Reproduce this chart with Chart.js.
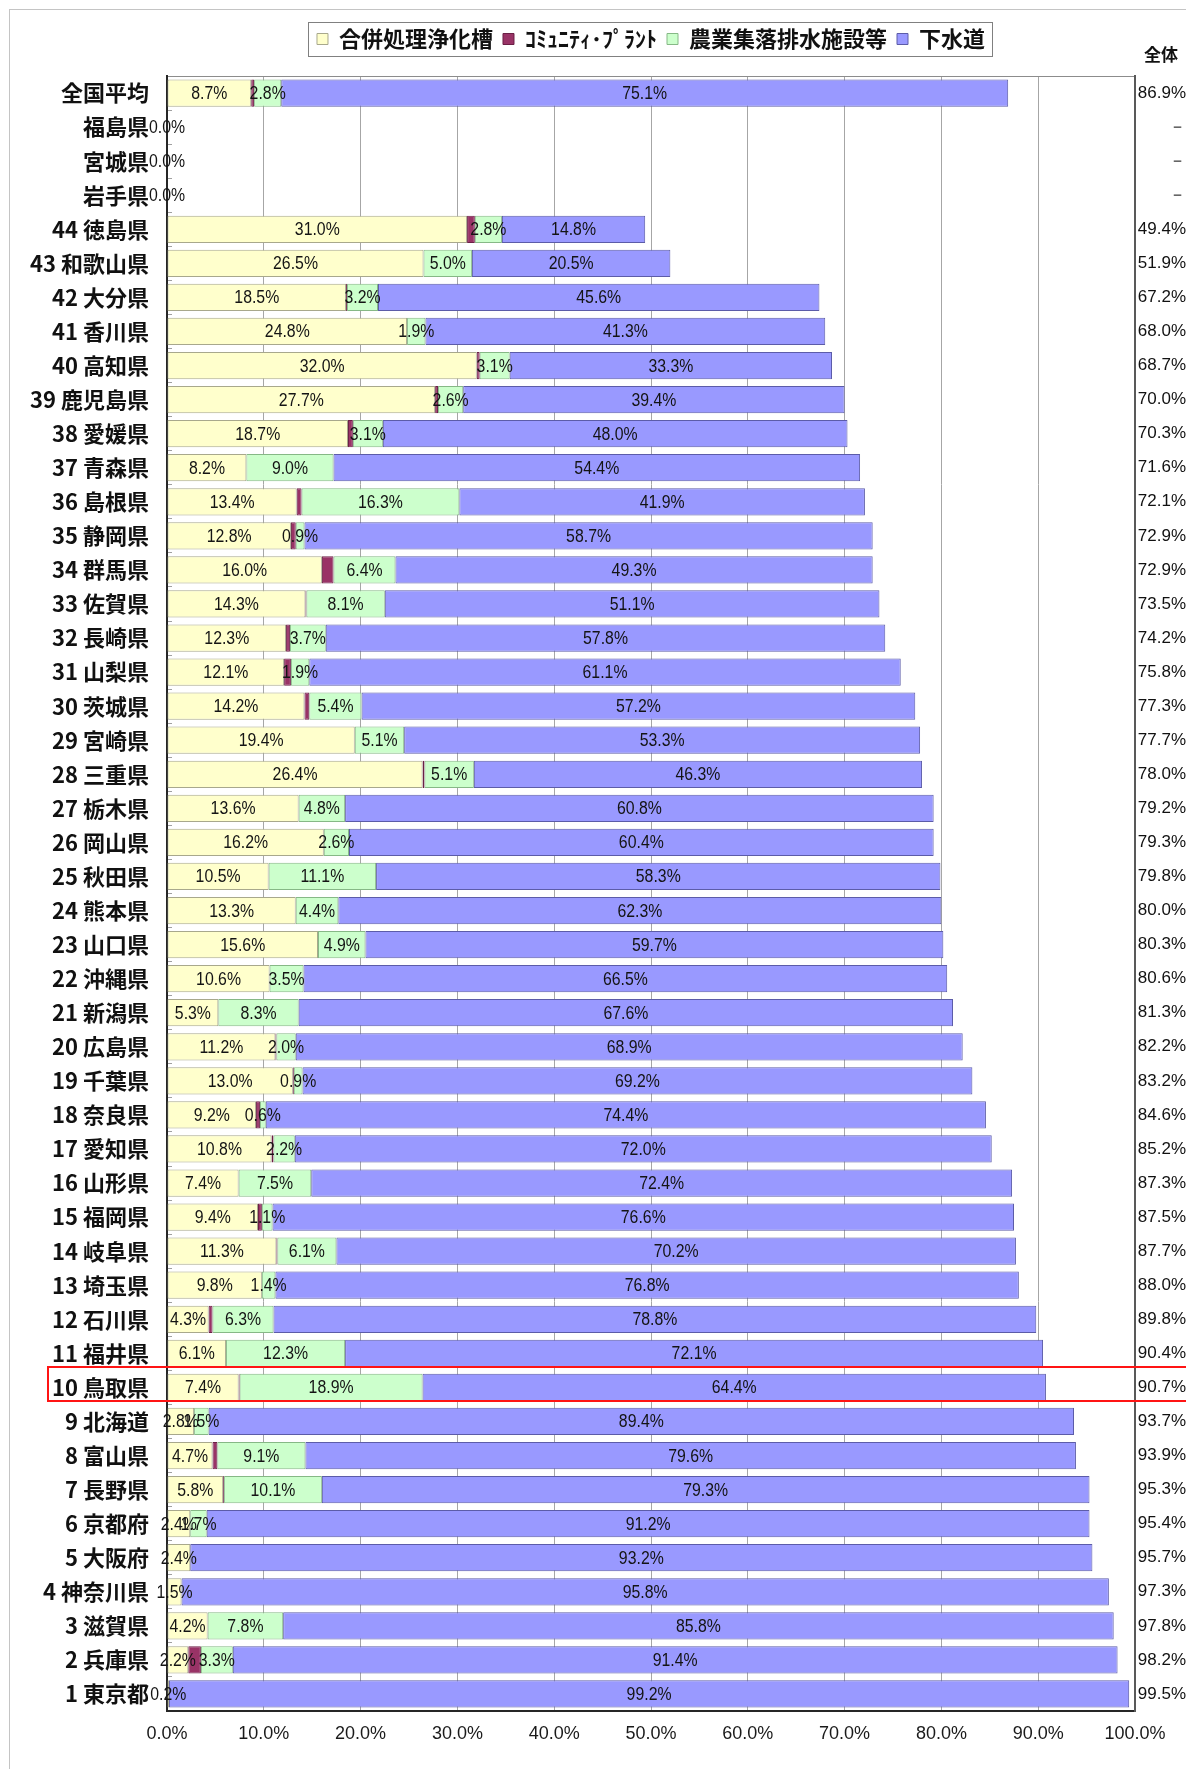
<!DOCTYPE html>
<html lang="ja">
<head>
<meta charset="UTF-8">
<title>汚水処理人口普及率（都道府県別）</title>
<script src="https://cdn.jsdelivr.net/npm/chart.js@4.4.1/dist/chart.umd.min.js"></script>
<style>
  html, body { margin: 0; padding: 0; background: #fff; overflow: hidden; }
  canvas { display: block; }
</style>
</head>
<body>
<canvas id="grafico" width="1186" height="1769"></canvas>
<script>
// categorias (de cima para baixo)
const categorias = ['全国平均', '福島県', '宮城県', '岩手県',
  '44 徳島県', '43 和歌山県', '42 大分県', '41 香川県', '40 高知県', '39 鹿児島県', '38 愛媛県', '37 青森県',
  '36 島根県', '35 静岡県', '34 群馬県', '33 佐賀県', '32 長崎県', '31 山梨県', '30 茨城県', '29 宮崎県',
  '28 三重県', '27 栃木県', '26 岡山県', '25 秋田県', '24 熊本県', '23 山口県', '22 沖縄県', '21 新潟県',
  '20 広島県', '19 千葉県', '18 奈良県', '17 愛知県', '16 山形県', '15 福岡県', '14 岐阜県', '13 埼玉県',
  '12 石川県', '11 福井県', '10 鳥取県', '9 北海道', '8 富山県', '7 長野県', '6 京都府', '5 大阪府',
  '4 神奈川県', '3 滋賀県', '2 兵庫県', '1 東京都'];

const gappei = [8.7, 0, 0, 0, 31.0, 26.5, 18.5, 24.8, 32.0, 27.7, 18.7, 8.2, 13.4, 12.8, 16.0, 14.3, 12.3, 12.1,
  14.2, 19.4, 26.4, 13.6, 16.2, 10.5, 13.3, 15.6, 10.6, 5.3, 11.2, 13.0, 9.2, 10.8, 7.4, 9.4, 11.3, 9.8, 4.3, 6.1,
  7.4, 2.8, 4.7, 5.8, 2.4, 2.4, 1.5, 4.2, 2.2, 0.2];

const community = [0.3, null, null, null, 0.8, null, 0.1, null, 0.3, 0.3, 0.5, null, 0.5, 0.5, 1.2, 0.1, 0.4, 0.7,
  0.5, null, 0.2, null, null, null, null, null, null, null, 0.1, 0.1, 0.4, 0.2, null, 0.4, 0.1, null, 0.4, null,
  0.1, null, 0.5, 0.1, null, null, null, null, 1.3, null];

const nougyou = [2.8, null, null, null, 2.8, 5.0, 3.2, 1.9, 3.1, 2.6, 3.1, 9.0, 16.3, 0.9, 6.4, 8.1, 3.7, 1.9,
  5.4, 5.1, 5.1, 4.8, 2.6, 11.1, 4.4, 4.9, 3.5, 8.3, 2.0, 0.9, 0.6, 2.2, 7.5, 1.1, 6.1, 1.4, 6.3, 12.3,
  18.9, 1.5, 9.1, 10.1, 1.7, null, null, 7.8, 3.3, null];

const gesuido = [75.1, null, null, null, 14.8, 20.5, 45.6, 41.3, 33.3, 39.4, 48.0, 54.4, 41.9, 58.7, 49.3, 51.1,
  57.8, 61.1, 57.2, 53.3, 46.3, 60.8, 60.4, 58.3, 62.3, 59.7, 66.5, 67.6, 68.9, 69.2, 74.4, 72.0, 72.4, 76.6,
  70.2, 76.8, 78.8, 72.1, 64.4, 89.4, 79.6, 79.3, 91.2, 93.2, 95.8, 85.8, 91.4, 99.2];

// coluna "全体" (null = －)
const zentai = [86.9, null, null, null, 49.4, 51.9, 67.2, 68.0, 68.7, 70.0, 70.3, 71.6, 72.1, 72.9, 72.9, 73.5,
  74.2, 75.8, 77.3, 77.7, 78.0, 79.2, 79.3, 79.8, 80.0, 80.3, 80.6, 81.3, 82.2, 83.2, 84.6, 85.2, 87.3, 87.5,
  87.7, 88.0, 89.8, 90.4, 90.7, 93.7, 93.9, 95.3, 95.4, 95.7, 97.3, 97.8, 98.2, 99.5];

const xTicks = [0, 10, 20, 30, 40, 50, 60, 70, 80, 90, 100];
const nomes = ['合併処理浄化槽', 'ｺﾐｭﾆﾃｨ･ﾌﾟﾗﾝﾄ', '農業集落排水施設等', '下水道'];
const cabecalhoTotal = '全体';
const destaque = '10 鳥取県';

const FONT_JP = "'Noto Sans CJK JP', 'Noto Sans', sans-serif";
const FONT_NUM = "'Liberation Sans Narrow', 'Liberation Sans', Arial, sans-serif";

const pct = v => v.toFixed(1) + '%';

// rótulos dentro das barras
const rotulos = {
  id: 'rotulos',
  afterDraw(chart) {
    const ctx = chart.ctx;
    chart.data.datasets.forEach((ds, di) => {
      if (!ds.rotulo) return;
      chart.getDatasetMeta(di).data.forEach((bar, i) => {
        const v = ds.data[i];
        if (v === null || v === undefined) return;
        const p = bar.getProps(['x', 'y', 'base'], true);
        ctx.save();
        ctx.translate((p.x + p.base) / 2, p.y + 1);
        ctx.scale(0.88, 1);
        ctx.font = "18px 'Liberation Sans', Arial, sans-serif";
        ctx.fillStyle = '#141414';
        ctx.textAlign = 'center';
        ctx.textBaseline = 'middle';
        ctx.fillText(pct(v), 0, 0);
        ctx.restore();
      });
    });
  }
};

// moldura, caixa da legenda, cabeçalho e destaque vermelho
const extras = {
  id: 'extras',
  beforeDraw(chart) {
    const ctx = chart.ctx;
    ctx.save();
    ctx.strokeStyle = '#c4c4c4';
    ctx.lineWidth = 1;
    ctx.strokeRect(9.5, 9.5, chart.width + 20, chart.height + 20);
    ctx.restore();
  },
  afterDraw(chart) {
    const ctx = chart.ctx;
    const area = chart.chartArea;

    const boxes = chart.legend.legendHitBoxes || [];
    if (boxes.length) {
      const l = Math.min(...boxes.map(b => b.left)) - 9;
      const r = Math.max(...boxes.map(b => b.left + b.width)) + 7;
      const t = Math.min(...boxes.map(b => b.top)) - 6;
      const b2 = Math.max(...boxes.map(b => b.top + b.height)) + 6;
      ctx.save();
      ctx.strokeStyle = '#808080';
      ctx.lineWidth = 1;
      ctx.strokeRect(Math.round(l) + 0.5, Math.round(t) + 0.5, Math.round(r - l), Math.round(b2 - t));
      ctx.restore();
    }

    ctx.save();
    ctx.font = `bold 17px ${FONT_JP}`;
    ctx.fillStyle = '#111';
    ctx.textAlign = 'left';
    ctx.textBaseline = 'middle';
    ctx.fillText(cabecalhoTotal, area.right + 9, area.top - 21);
    ctx.restore();

    const yScale = chart.scales.y;
    const idx = categorias.indexOf(destaque);
    if (idx >= 0) {
      const rowH = (area.bottom - area.top) / categorias.length;
      const yc = yScale.getPixelForValue(idx);
      ctx.save();
      ctx.strokeStyle = '#ff1414';
      ctx.lineWidth = 2;
      ctx.strokeRect(yScale.left + 48, Math.round(yc - rowH / 2) - 3, chart.width, Math.round(rowH));
      ctx.restore();
    }
  }
};

const ctx = document.getElementById('grafico').getContext('2d');
new Chart(ctx, {
  type: 'bar',
  data: {
    labels: categorias,
    datasets: [
      { label: nomes[0], data: gappei, backgroundColor: '#ffffcc', borderColor: '#a8a88c', rotulo: true },
      { label: nomes[1], data: community, backgroundColor: '#993366', borderColor: '#6b1f45', rotulo: false },
      { label: nomes[2], data: nougyou, backgroundColor: '#ccffcc', borderColor: '#86b886', rotulo: true },
      { label: nomes[3], data: gesuido, backgroundColor: '#9999ff', borderColor: '#5c5ca8', rotulo: true }
    ]
  },
  options: {
    indexAxis: 'y',
    responsive: false,
    animation: false,
    datasets: {
      bar: { barPercentage: 0.8, categoryPercentage: 1.0, borderWidth: 1, borderSkipped: false }
    },
    layout: { padding: { top: 18, left: 0, right: 0, bottom: 0 } },
    plugins: {
      legend: {
        position: 'top',
        fullSize: false,
        labels: {
          boxWidth: 11,
          boxHeight: 11,
          padding: 10,
          color: '#111',
          font: { family: FONT_JP, size: 22, weight: 'bold' }
        }
      },
      tooltip: { enabled: false }
    },
    scales: {
      x: {
        stacked: true,
        min: 0,
        max: 100,
        position: 'bottom',
        afterBuildTicks: s => { s.ticks = xTicks.map(v => ({ value: v })); },
        afterFit: s => { s.height = 58; },
        grid: { color: '#a6a6a6', lineWidth: 1, drawTicks: false },
        border: { color: '#262626', width: 2 },
        ticks: {
          padding: 12,
          color: '#1a1a1a',
          maxRotation: 0,
          autoSkip: false,
          font: { family: FONT_NUM, size: 18 },
          callback: v => pct(v)
        }
      },
      xt: {
        type: 'linear',
        position: 'top',
        min: 0,
        max: 100,
        afterFit: s => { s.height = 16; },
        grid: { display: false },
        ticks: { display: false },
        border: { color: '#8c8c8c', width: 1 }
      },
      y: {
        stacked: true,
        afterFit: s => { s.width = 167; },
        grid: { display: true, drawOnChartArea: false, drawTicks: true, tickLength: -5, color: '#a0a0a0' },
        border: { color: '#262626', width: 2 },
        ticks: {
          padding: 23,
          color: '#111',
          autoSkip: false,
          font: { family: FONT_JP, size: 22, weight: 'bold' }
        }
      },
      yr: {
        type: 'category',
        position: 'right',
        labels: zentai.map(v => v === null ? '－' : pct(v)),
        offset: true,
        afterFit: s => { s.width = 51; },
        grid: { display: false, offset: true },
        border: { color: '#595959', width: 2 },
        ticks: {
          padding: 0,
          crossAlign: 'far',
          autoSkip: false,
          color: '#111',
          font: { family: FONT_NUM, size: 17 }
        }
      }
    }
  },
  plugins: [rotulos, extras]
});
</script>
</body>
</html>
